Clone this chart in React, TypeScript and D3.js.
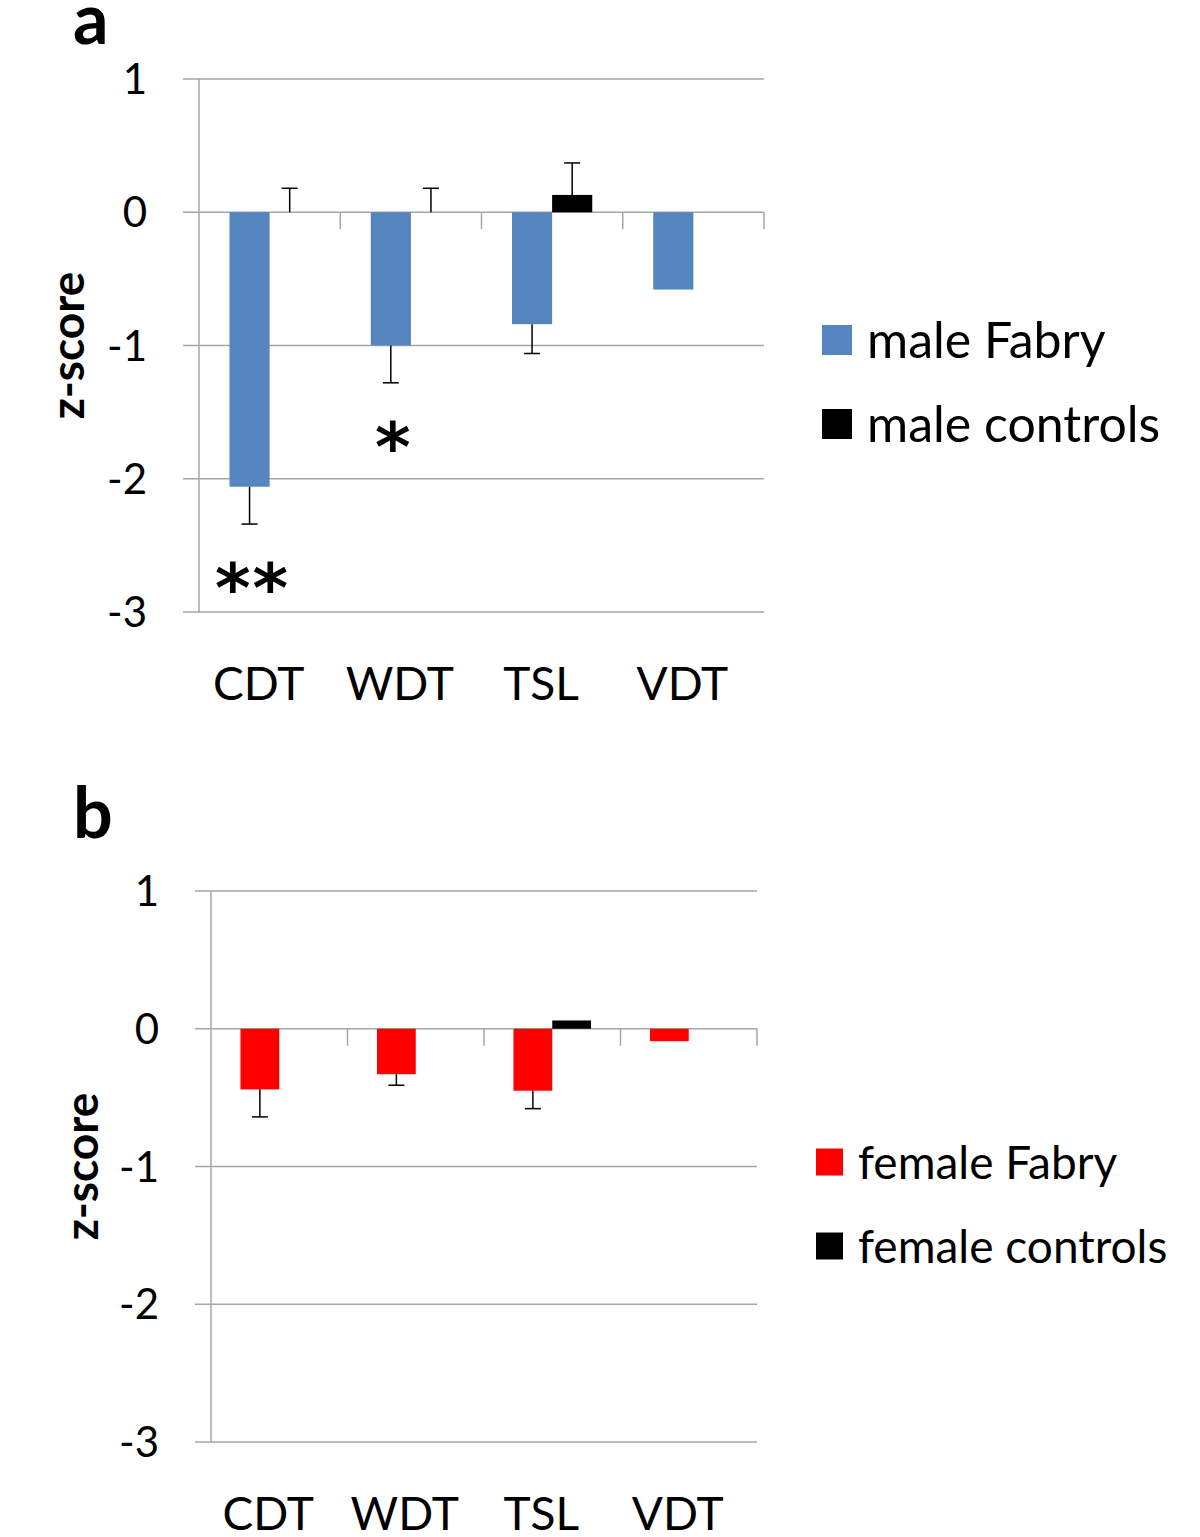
import React, { useEffect, useRef } from "react";
import * as d3 from "d3";

const categories = ["CDT", "WDT", "TSL", "VDT"];
const yTicks = [1, 0, -1, -2, -3];

// panel a
const maleFabry = [-2.06, -1.0, -0.84, -0.58];
const maleFabryErr = [0.28, 0.28, 0.22, 0];
const maleControls = [0, 0, 0.13, 0];
const maleControlsErr = [0.18, 0.18, 0.24, 0];
const maleStars = ["**", "*", "", ""];

// panel b
const femaleFabry = [-0.44, -0.33, -0.45, -0.09];
const femaleFabryErr = [0.2, 0.08, 0.13, 0];
const femaleControls = [0, 0, 0.06, 0];
const femaleControlsErr = [0, 0, 0, 0];

const FONT = "Lato, 'Open Sans', sans-serif";
const GRID = "#a6a6a6";

type PanelOpts = {
  letter: string;
  letterY: number;
  x0: number;
  x1: number;
  yTop: number;
  yBottom: number;
  fabry: number[];
  fabryErr: number[];
  controls: number[];
  controlsErr: number[];
  color: string;
  names: string[];
  legendX: number;
  legendY: number;
  legendSize: number;
  legendFont: number;
  stars?: string[];
  labelX: number;
};

function drawPanel(svg: d3.Selection<SVGSVGElement, unknown, null, undefined>, o: PanelOpts) {
  const g = svg.append("g");

  const y = d3.scaleLinear().domain([-3, 1]).range([o.yBottom, o.yTop]);
  const x = d3.scaleBand().domain(categories).range([o.x0, o.x1]);
  const inner = d3.scaleBand().domain(["f", "c"]).range([0, x.bandwidth()]).paddingOuter(0.76);

  // gridlines
  g.selectAll(".grid")
    .data(yTicks)
    .join("line")
    .attr("x1", o.x0 - 16)
    .attr("x2", o.x1)
    .attr("y1", (d) => y(d))
    .attr("y2", (d) => y(d))
    .attr("stroke", GRID)
    .attr("stroke-width", 1.5);

  // y axis
  g.append("line")
    .attr("x1", o.x0)
    .attr("x2", o.x0)
    .attr("y1", y(1))
    .attr("y2", y(-3))
    .attr("stroke", GRID)
    .attr("stroke-width", 1.5);

  // category ticks on zero line
  g.selectAll(".ctick")
    .data(categories)
    .join("line")
    .attr("x1", (d) => x(d)! + x.bandwidth())
    .attr("x2", (d) => x(d)! + x.bandwidth())
    .attr("y1", y(0))
    .attr("y2", y(0) + 17)
    .attr("stroke", GRID)
    .attr("stroke-width", 1.5);

  // y tick labels
  g.selectAll(".ylab")
    .data(yTicks)
    .join("text")
    .attr("x", o.x0 - 52)
    .attr("y", (d) => y(d))
    .attr("dy", "0.36em")
    .attr("text-anchor", "end")
    .attr("font-family", FONT)
    .attr("font-size", 42)
    .text((d) => String(d));

  // x labels
  g.selectAll(".xlab")
    .data(categories)
    .join("text")
    .attr("x", (d) => x(d)! + x.bandwidth() / 2 - 11)
    .attr("y", o.yBottom + 88)
    .attr("text-anchor", "middle")
    .attr("font-family", FONT)
    .attr("font-size", 46)
    .text((d) => d);

  // y axis title
  g.append("text")
    .attr("transform", `translate(${o.labelX},${(y(1) + y(-3)) / 2}) rotate(-90)`)
    .attr("text-anchor", "middle")
    .attr("font-family", FONT)
    .attr("font-weight", "bold")
    .attr("font-size", 46)
    .text("z-score");

  // panel letter
  g.append("text")
    .attr("x", 73)
    .attr("y", o.letterY)
    .attr("font-family", FONT)
    .attr("font-weight", "bold")
    .attr("font-size", 70)
    .text(o.letter);

  const series = [
    { key: "f", vals: o.fabry, errs: o.fabryErr, color: o.color },
    { key: "c", vals: o.controls, errs: o.controlsErr, color: "#000000" },
  ];

  series.forEach((s) => {
    const rows = categories.map((c, i) => ({ c, v: s.vals[i], e: s.errs[i] }));
    const bx = (c: string) => x(c)! + inner(s.key)!;
    g.selectAll(`.bar-${s.key}`)
      .data(rows)
      .join("rect")
      .attr("x", (d) => bx(d.c))
      .attr("width", inner.bandwidth())
      .attr("y", (d) => y(Math.max(0, d.v)))
      .attr("height", (d) => Math.abs(y(d.v) - y(0)))
      .attr("fill", s.color);

    const er = rows.filter((d) => d.e > 0);
    const tip = (d: { v: number; e: number }) => (d.v < 0 ? d.v - d.e : d.v + d.e);
    const cx = (c: string) => bx(c) + inner.bandwidth() / 2;
    g.selectAll(`.err-${s.key}`)
      .data(er)
      .join("line")
      .attr("x1", (d) => cx(d.c))
      .attr("x2", (d) => cx(d.c))
      .attr("y1", (d) => y(d.v))
      .attr("y2", (d) => y(tip(d)))
      .attr("stroke", "#000")
      .attr("stroke-width", 1.5);
    g.selectAll(`.cap-${s.key}`)
      .data(er)
      .join("line")
      .attr("x1", (d) => cx(d.c) - 8)
      .attr("x2", (d) => cx(d.c) + 8)
      .attr("y1", (d) => y(tip(d)))
      .attr("y2", (d) => y(tip(d)))
      .attr("stroke", "#000")
      .attr("stroke-width", 1.5);
  });

  // significance stars
  if (o.stars) {
    const rows = categories.map((c, i) => ({ c, s: o.stars![i], v: o.fabry[i] - o.fabryErr[i] }));
    g.selectAll(".star")
      .data(rows.filter((d) => d.s))
      .join("text")
      .attr("x", (d) => x(d.c)! + inner("f")! + inner.bandwidth() / 2 + 3)
      .attr("y", (d) => y(d.v) + 88)
      .attr("text-anchor", "middle")
      .attr("font-family", "'DejaVu Sans', sans-serif")
      .attr("font-weight", "bold")
      .attr("font-size", 68)
      .attr("letter-spacing", 2)
      .text((d) => d.s);
  }

  // legend
  const leg = g.append("g").attr("transform", `translate(${o.legendX},${o.legendY})`);
  o.names.forEach((n, i) => {
    leg.append("rect")
      .attr("x", 0)
      .attr("y", i * 84 - o.legendSize / 2)
      .attr("width", o.legendSize)
      .attr("height", o.legendSize)
      .attr("fill", i === 0 ? o.color : "#000");
    leg.append("text")
      .attr("x", o.legendSize + 15)
      .attr("y", i * 84)
      .attr("dy", "0.36em")
      .attr("font-family", FONT)
      .attr("font-size", o.legendFont)
      .text(n);
  });
}

export default function App() {
  const svgRef = useRef<SVGSVGElement>(null);

  useEffect(() => {
    const svg = d3.select(svgRef.current!);
    svg.selectAll("*").remove();
    svg.append("rect").attr("width", 1200).attr("height", 1537).attr("fill", "#fff");

    drawPanel(svg, {
      letter: "a",
      letterY: 44,
      x0: 199,
      x1: 764,
      yTop: 79,
      yBottom: 612,
      fabry: maleFabry,
      fabryErr: maleFabryErr,
      controls: maleControls,
      controlsErr: maleControlsErr,
      color: "#5586c0",
      names: ["male Fabry", "male controls"],
      legendX: 822,
      legendY: 340,
      legendSize: 30,
      legendFont: 50,
      stars: maleStars,
      labelX: 84,
    });

    drawPanel(svg, {
      letter: "b",
      letterY: 838,
      x0: 211,
      x1: 757,
      yTop: 891,
      yBottom: 1442,
      fabry: femaleFabry,
      fabryErr: femaleFabryErr,
      controls: femaleControls,
      controlsErr: femaleControlsErr,
      color: "#ff0000",
      names: ["female Fabry", "female controls"],
      legendX: 816,
      legendY: 1162,
      legendSize: 27,
      legendFont: 46,
      labelX: 98,
    });
  }, []);

  return (
    <svg
      ref={svgRef}
      width={1200}
      height={1537}
      style={{ position: "absolute", left: 0, top: 0, display: "block" }}
    />
  );
}
